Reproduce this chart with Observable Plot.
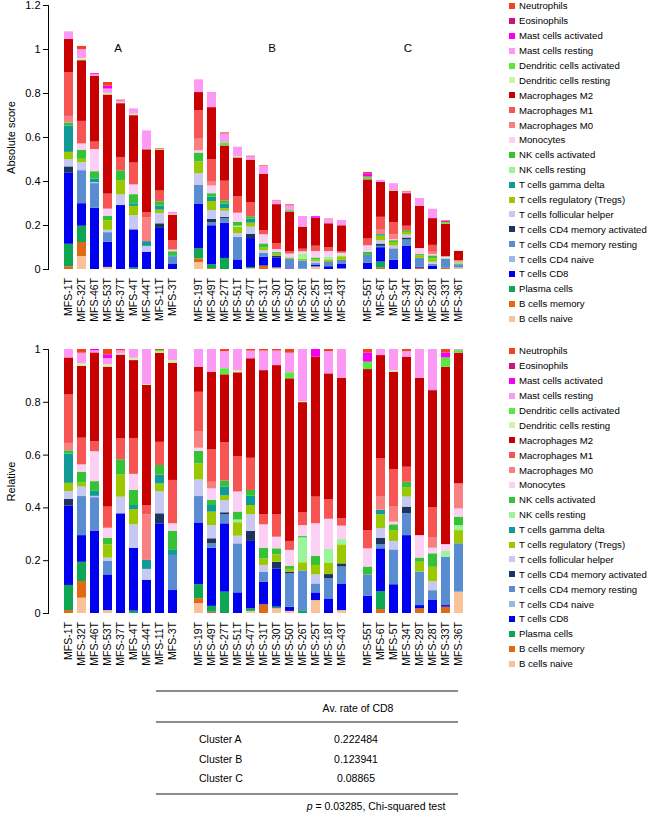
<!DOCTYPE html>
<html><head><meta charset="utf-8">
<script src="https://cdn.jsdelivr.net/npm/d3@7"></script>
<script src="https://cdn.jsdelivr.net/npm/@observablehq/plot@0.6"></script>
<style>
body{margin:0;background:#fff;font-family:"Liberation Sans",Arial,sans-serif;color:#000;}
#root{position:relative;width:652px;height:813px;overflow:hidden;}
.chart{position:absolute;left:0;}
.legend{position:absolute;left:509px;font-size:9.6px;}
.legend .row{height:14.9px;display:flex;align-items:center;white-space:nowrap;}
.legend .sw{width:6px;height:6px;margin-right:4px;flex:none;}
.tline{position:absolute;left:156px;width:302px;background:#8c8c8c;}
.tt{position:absolute;font-size:10.5px;white-space:nowrap;transform:translateY(-50%);}
</style></head><body><div id="root"></div>
<script>
// ---- data ----
const clusterA = ["MFS-1T","MFS-32T","MFS-46T","MFS-53T","MFS-37T","MFS-4T","MFS-44T","MFS-11T","MFS-3T"];
const clusterB = ["MFS-19T","MFS-49T","MFS-27T","MFS-51T","MFS-47T","MFS-31T","MFS-30T","MFS-50T","MFS-26T","MFS-25T","MFS-18T","MFS-43T"];
const clusterC = ["MFS-55T","MFS-6T","MFS-5T","MFS-34T","MFS-29T","MFS-28T","MFS-33T","MFS-36T"];
const samples = [...clusterA, ...clusterB, ...clusterC];
const clusterLabels = ["A","B","C"];

// absolute score per sample (bar height in top panel)
const totals = [1.08,1.014,0.89,0.85,0.77,0.73,0.63,0.55,0.26, 0.862,0.805,0.621,0.556,0.515,0.471,0.314,0.294,0.241,0.24,0.229,0.223, 0.441,0.405,0.39,0.355,0.323,0.274,0.221,0.083];

// relative fractions per cell type (sample order as above)
const bCellsNaive      = [0,0.058,0,0.011,0,0,0,0,0, 0.037,0,0,0,0.008,0,0.018,0.008,0,0.049,0,0.011, 0,0,0,0,0,0,0,0.081];
const bCellsMemory     = [0.011,0.063,0,0,0,0,0,0,0, 0.019,0.005,0,0,0,0.033,0,0,0,0,0,0, 0,0.015,0,0,0.018,0,0.024,0];
const plasmaCells      = [0.095,0.073,0,0,0,0.009,0,0,0, 0.053,0.022,0.081,0,0.01,0,0.006,0,0.008,0,0,0, 0,0.068,0,0,0,0,0,0];
const tCellsCD8        = [0.30,0.101,0.314,0.135,0.378,0.238,0.125,0.34,0.087, 0.234,0.22,0.259,0.078,0.255,0.086,0.145,0.016,0,0.029,0.055,0.101, 0.066,0.162,0.109,0.295,0.012,0.051,0.006,0];
const tCellsCD4Naive   = [0,0,0,0,0,0,0,0,0, 0,0,0,0,0,0,0,0,0,0,0,0, 0,0,0,0,0,0,0,0];
const tCellsCD4MemRest = [0,0.148,0.127,0.051,0,0,0,0,0.133, 0.1,0.017,0.034,0.185,0,0.038,0,0.126,0.155,0.034,0.076,0.064, 0.08,0.015,0.132,0.083,0.127,0.035,0.183,0.183];
const tCellsCD4MemAct  = [0.025,0,0,0,0,0,0,0.038,0, 0,0.019,0.008,0,0.038,0,0.025,0.007,0,0,0.016,0.012, 0,0.025,0,0.025,0,0,0,0];
const tCellsFH         = [0.03,0.036,0.005,0.013,0.063,0.089,0.042,0.084,0, 0.063,0.05,0.045,0.029,0.063,0.025,0,0,0,0.034,0,0, 0,0.036,0.032,0.038,0,0.034,0,0];
const tCellsTregs      = [0.031,0.015,0,0.05,0.084,0.057,0,0.029,0, 0.061,0.051,0.019,0.051,0.035,0.025,0.028,0.01,0.031,0.036,0.044,0.072, 0,0.053,0.041,0.034,0.037,0.054,0,0.05];
const tCellsGammaDelta = [0.111,0,0.019,0,0,0.016,0.034,0.034,0.019, 0,0.025,0.034,0,0.035,0,0,0,0,0,0,0, 0,0.017,0,0,0,0,0,0];
const nkResting        = [0,0,0,0,0,0,0,0,0, 0,0,0,0.01,0,0,0,0,0.095,0,0.051,0.02, 0,0,0,0,0,0,0.023,0.019];
const nkActivated      = [0.012,0.041,0.037,0.025,0.058,0.057,0,0.036,0.072, 0.047,0.019,0.022,0.03,0.022,0.04,0.023,0.012,0.005,0.035,0,0, 0.03,0,0.022,0.022,0.016,0.051,0,0.032];
const monocytes        = [0,0.028,0.114,0.038,0,0.061,0,0,0.029, 0.012,0.044,0,0.076,0,0.089,0.044,0.06,0.042,0.123,0.114,0.051, 0.069,0,0.01,0,0.085,0.021,0.025,0.031];
const macrophagesM0    = [0.028,0,0,0,0,0,0.173,0,0, 0.061,0.025,0,0,0,0,0,0,0,0,0,0, 0,0.05,0.057,0,0,0.038,0,0.095];
const macrophagesM1    = [0.183,0.101,0.038,0.08,0.079,0.136,0.035,0.088,0.164, 0.151,0.124,0.145,0.134,0.122,0.038,0.085,0.034,0.05,0.101,0.073,0.028, 0.069,0.145,0.142,0.057,0,0.114,0,0];
const macrophagesM2    = [0.14,0.272,0.338,0.53,0.318,0.295,0.455,0.338,0.444, 0.095,0.293,0.258,0.316,0.377,0.546,0.565,0.616,0.42,0.53,0.476,0.532, 0.61,0.391,0.369,0.417,0.596,0.442,0.672,0.495];
const dcResting        = [0,0.01,0,0.009,0.004,0.009,0.003,0.005,0.01, 0,0,0,0.008,0,0,0,0,0.004,0,0,0, 0,0,0.006,0,0,0,0,0];
const dcActivated      = [0,0,0,0,0,0,0,0.005,0, 0,0,0.023,0,0,0,0,0.023,0,0,0,0, 0.028,0,0,0,0,0,0.035,0.01];
const mastResting      = [0.032,0.04,0.008,0.023,0.012,0.033,0.133,0,0.042, 0.067,0.086,0.065,0.08,0.029,0.074,0.055,0.074,0.199,0,0.084,0.109, 0,0.023,0.08,0.021,0.109,0.155,0,0.004];
const mastActivated    = [0,0,0.005,0.015,0,0,0,0,0, 0,0,0,0,0,0,0,0,0,0.029,0,0, 0.035,0,0,0,0,0,0.019,0];
const eosinophils      = [0,0,0,0,0,0,0,0,0, 0,0,0,0,0,0,0,0,0,0,0,0, 0,0,0,0,0,0,0,0];
const neutrophils      = [0,0.014,0,0.02,0.005,0,0,0.004,0, 0,0,0.008,0,0.006,0.006,0.006,0.014,0,0,0.008,0, 0.013,0,0,0.008,0,0,0.013,0];

// stack order, bottom to top
const cellTypes = ["B cells naive","B cells memory","Plasma cells","T cells CD8","T cells CD4 naive","T cells CD4 memory resting","T cells CD4 memory activated","T cells follicular helper","T cells regulatory (Tregs)","T cells gamma delta","NK cells resting","NK cells activated","Monocytes","Macrophages M0","Macrophages M1","Macrophages M2","Dendritic cells resting","Dendritic cells activated","Mast cells resting","Mast cells activated","Eosinophils","Neutrophils"];
const cellValues = [bCellsNaive,bCellsMemory,plasmaCells,tCellsCD8,tCellsCD4Naive,tCellsCD4MemRest,tCellsCD4MemAct,tCellsFH,tCellsTregs,tCellsGammaDelta,nkResting,nkActivated,monocytes,macrophagesM0,macrophagesM1,macrophagesM2,dcResting,dcActivated,mastResting,mastActivated,eosinophils,neutrophils];
const cellColors = ["#F9C29A","#E06A14","#0DA754","#0000F0","#9AB8E6","#5A8CD2","#1B3560","#C8C8F5","#9CC800","#109A98","#9AF59A","#35C235","#FCCFF5","#F98080","#F75454","#C80000","#CDF5A8","#58E83E","#FC99F5","#F700F0","#CC1480","#F3431E"];

const tableRows = ["Cluster A","Cluster B","Cluster C"];
const cd8Rates = ["0.222484","0.123941","0.08865"];

// ---- build rows ----
const rows = [];
samples.forEach((s, i) => {
  const sum = d3.sum(cellValues, v => v[i]);
  cellTypes.forEach((t, j) => {
    const rel = cellValues[j][i] / sum;
    rows.push({sample: s, type: t, rel, abs: rel * totals[i]});
  });
});
const xDomain = [...clusterA, " ", ...clusterB, "  ", ...clusterC];
const fmt = d => String(+d.toFixed(1));
const font = "Liberation Sans, Arial, sans-serif";

function chart({key, yDomain, yTicks, label, height, marginTop, marginBottom, withClusters}) {
  const marks = [
    Plot.barY(rows, {x: "sample", y: key, fill: "type"}),
    Plot.axisX({tickSize: 0, tickRotate: -90, tickPadding: 8.5, fontSize: 10.5, label: null}),
    Plot.axisY({ticks: yTicks, tickSize: 5, tickPadding: 3, tickFormat: fmt, fontSize: 11, label, labelAnchor: "center", labelOffset: 41, labelArrow: "none"}),
    Plot.frame({anchor: "left"})
  ];
  if (withClusters) {
    const anchors = [clusterA[4], clusterB[5], clusterC[3]];
    const dxs = [-3, 8, 1];
    clusterLabels.forEach((c, i) => marks.push(Plot.text([c], {x: [anchors[i]], text: d => d, frameAnchor: "top", dy: 38, dx: dxs[i], fontSize: 11.5})));
  }
  return Plot.plot({
    width: 652, height, marginLeft: 48, marginRight: 173.4, marginTop, marginBottom,
    style: {fontFamily: font, fontSize: "11px", color: "#000", background: "transparent"},
    x: {domain: xDomain, paddingInner: 0.32, paddingOuter: 0.15},
    y: {domain: yDomain},
    color: {domain: cellTypes, range: cellColors},
    marks
  });
}

const root = document.getElementById("root");
const c1 = chart({key: "abs", yDomain: [0, 1.2], yTicks: [0,0.2,0.4,0.6,0.8,1,1.2], label: "Absolute score", height: 340, marginTop: 5, marginBottom: 71, withClusters: true});
c1.classList.add("chart"); c1.style.top = "0px"; root.appendChild(c1);
const c2 = chart({key: "rel", yDomain: [0, 1], yTicks: [0,0.2,0.4,0.6,0.8,1], label: "Relative", height: 335, marginTop: 9, marginBottom: 62, withClusters: false});
c2.classList.add("chart"); c2.style.top = "340px"; root.appendChild(c2);

function legend(top) {
  const div = document.createElement("div");
  div.className = "legend";
  div.style.top = top + "px";
  for (let j = cellTypes.length - 1; j >= 0; j--) {
    const row = document.createElement("div"); row.className = "row";
    const sw = document.createElement("span"); sw.className = "sw"; sw.style.background = cellColors[j];
    const tx = document.createElement("span"); tx.textContent = cellTypes[j];
    row.appendChild(sw); row.appendChild(tx); div.appendChild(row);
  }
  root.appendChild(div);
}
legend(-1.5);
legend(343.5);

// ---- table ----
function line(y, h) { const d = document.createElement("div"); d.className = "tline"; d.style.top = (y - h/2) + "px"; d.style.height = h + "px"; root.appendChild(d); }
function txt(s, x, y, anchor, html) { const d = document.createElement("div"); d.className = "tt"; if (html) d.innerHTML = s; else d.textContent = s; d.style.top = y + "px"; d.style.left = x + "px"; if (anchor === "middle") d.style.transform = "translate(-50%,-50%)"; root.appendChild(d); }
line(691, 2); line(722, 1.2); line(794, 2);
txt("Av. rate of CD8", 358, 708, "middle");
tableRows.forEach((r, i) => { const y = 739 + i * 19.5; txt(r, 199, y, "start"); txt(cd8Rates[i], 356, y, "middle"); });
txt("<i>p</i> = 0.03285, Chi-squared test", 376, 806, "middle", true);
</script></body></html>
